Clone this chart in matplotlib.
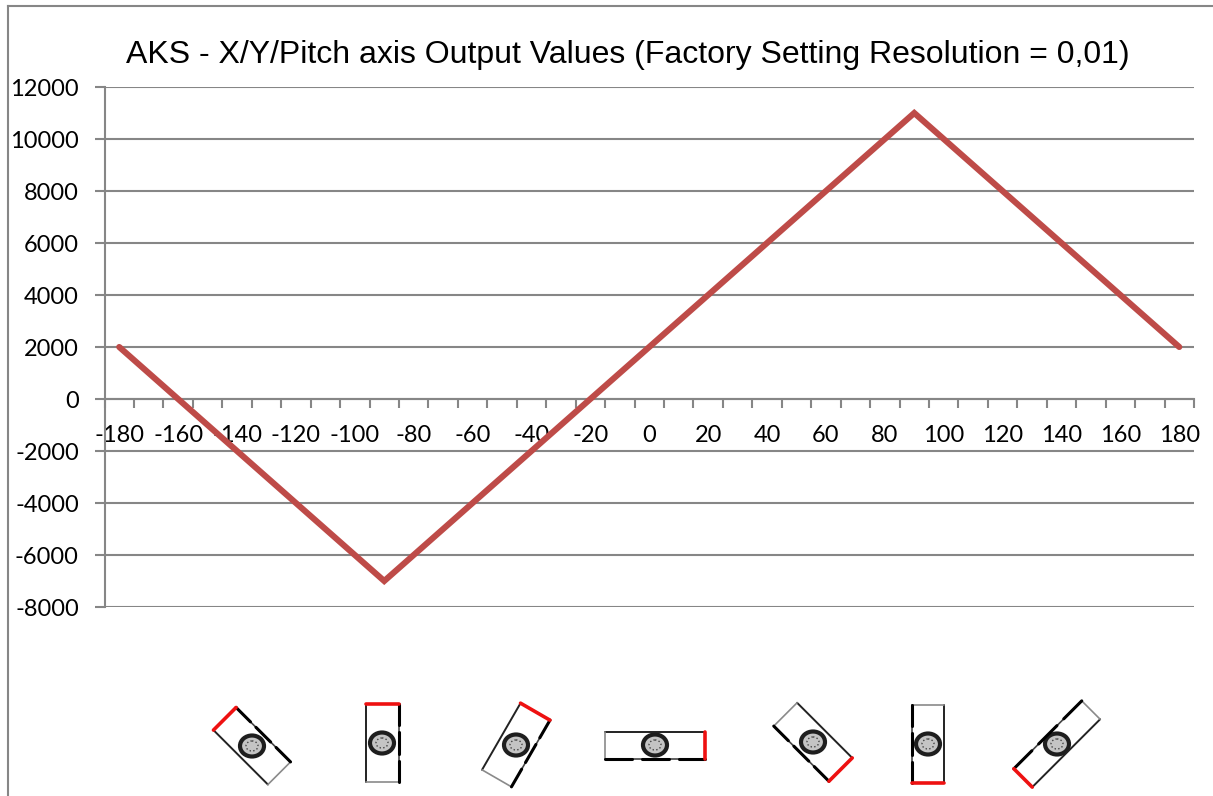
import numpy as np
import matplotlib
matplotlib.use("Agg")
import matplotlib.pyplot as plt
from matplotlib.patches import Ellipse

plt.rcParams["font.family"] = ["Lato", "DejaVu Sans"]
plt.rcParams["axes.unicode_minus"] = False

W, H = 1213, 796
GREY = "#868686"

# Data
angle = [-180, -90, 90, 180]
output = [2000, -7000, 11000, 2000]
y_ticks = list(range(-8000, 12001, 2000))
x_labels = list(range(-180, 181, 20))

# Sensor icons in px: centre, direction of the red end, length, width
icon_x = [252, 382, 516, 655, 813, 928, 1057]
icon_y = [746, 743, 745, 745, 742, 744, 744]
icon_dir = [-135, -90, -60, 0, 45, 90, 135]
icon_len = [77, 78, 77, 100, 78, 78, 96]
icon_wid = [32, 33, 34, 27, 33, 32, 26]

fig = plt.figure(figsize=(W / 100, H / 100), dpi=100)
ax = fig.add_axes([104.5 / W, 1 - 607 / H, (1194 - 104.5) / W, 520 / H])

ax.plot(angle, output, color="#BE4B48", linewidth=4.4, solid_capstyle="round",
        solid_joinstyle="miter", zorder=3)
ax.set_xlim(-185, 185)
ax.set_ylim(-8000, 12000)

ax.set_yticks(y_ticks)
ax.grid(True, axis="y", color=GREY, linewidth=1.5)
ax.set_axisbelow(True)
ax.tick_params(axis="y", length=7, width=1.5, color=GREY, pad=11.5, labelsize=17)

for s in ["top", "right"]:
    ax.spines[s].set_visible(False)
ax.spines["left"].set_color(GREY)
ax.spines["left"].set_linewidth(1.5)
ax.spines["bottom"].set_position(("data", 0))
ax.spines["bottom"].set_color(GREY)
ax.spines["bottom"].set_linewidth(1.5)

# ticks sit between categories, labels on the categories
ax.set_xticks(np.arange(-185, 186, 10))
ax.set_xticklabels([])
ax.tick_params(axis="x", length=6.5, width=1.5, color=GREY, direction="out")
for v in x_labels:
    ax.annotate(str(v), (v, 0), xytext=(0, -36), textcoords="offset pixels",
                ha="center", va="center", fontsize=17, color="black", zorder=2)

fig.text(628 / W, 1 - 55 / H, "AKS - X/Y/Pitch axis Output Values (Factory Setting Resolution = 0,01)",
         ha="center", va="center", fontsize=23.05, family="Liberation Sans")

# frame of the pasted chart
fig.add_artist(plt.Line2D([7.5 / W, 7.5 / W], [0, 1 - 5.5 / H], color=GREY, linewidth=1.5))
fig.add_artist(plt.Line2D([7.5 / W, 1], [1 - 5.5 / H, 1 - 5.5 / H], color=GREY, linewidth=1.5))

# icons in a pixel-space overlay
ov = fig.add_axes([0, 0, 1, 1], facecolor="none")
ov.set_xlim(0, W)
ov.set_ylim(H, 0)
ov.axis("off")
for cx, cy, rot, ln, wd in zip(icon_x, icon_y, icon_dir, icon_len, icon_wid):
    t = np.radians(rot)
    u = np.array([np.cos(t), np.sin(t)])
    v = np.array([-np.sin(t), np.cos(t)])
    c = np.array([cx, cy])

    def p(a, b):
        return c + a * ln / 2 * u + b * wd / 2 * v

    def edge(a0, b0, a1, b1, **kw):
        seg = np.array([p(a0, b0), p(a1, b1)])
        ov.plot(seg[:, 0], seg[:, 1], solid_capstyle="round", **kw)

    edge(1, -1, -1, -1, color="#222222", linewidth=1.4)
    edge(1, 1, -1, 1, color="#444444", linewidth=1.2)
    edge(-1, -1, -1, 1, color="#8A8A8A", linewidth=1.2)
    # thick connector edge with gaps
    for a0, a1 in [(-1, -0.47), (-0.27, 0.27), (0.47, 1)]:
        edge(a0, 1, a1, 1, color="black", linewidth=2.2)
    edge(1, -1, 1, 1, color="#EE1111", linewidth=2.6)
    ov.add_patch(Ellipse(c, 24, 21, facecolor="#C4C4C4", edgecolor="#1E1E1E", linewidth=3.0))
    ov.add_patch(Ellipse(c, 12, 10, facecolor="none", edgecolor="#444444", linewidth=1, linestyle=":"))

fig.savefig("out.png", dpi=100)
